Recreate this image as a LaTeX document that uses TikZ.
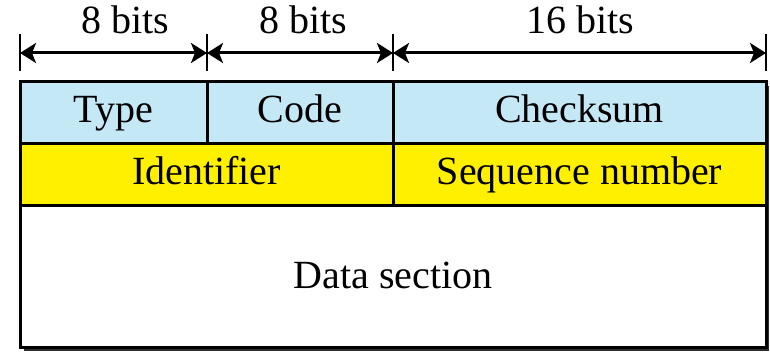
\documentclass[tikz,border=0pt]{standalone}
\usepackage{fontspec}
\setmainfont{Liberation Serif}
\usetikzlibrary{arrows.meta}
\definecolor{hdrblue}{RGB}{197,232,247}
\definecolor{idyellow}{RGB}{255,240,0}
\definecolor{shadowgray}{RGB}{45,45,45}
\begin{document}
\begin{tikzpicture}[x=1pt,y=-1pt,
  txt/.style={anchor=base,inner sep=0pt,font=\fontsize{40}{46}\selectfont},
  cellbox/.style={draw=black,line width=3pt},
  tick/.style={draw=black,line width=2.5pt},
  span/.style={draw=black,line width=3pt,{Stealth[length=16pt,width=20pt,inset=4pt]}-{Stealth[length=16pt,width=20pt,inset=4pt]}}
]
\useasboundingbox (0,0) rectangle (770,352);

% column edges at the dimension line
\coordinate (a0) at (20,53);
\coordinate (a1) at (207,53);
\coordinate (a2) at (393,53);
\coordinate (a3) at (766,53);

% tick marks
\foreach \c in {a0,a1,a2,a3}
  \draw[tick] ([yshift=-18pt]\c) -- ([yshift=19pt]\c);

% bit-width arrows
\draw[span] (a0) -- (a1);
\draw[span] (a1) -- (a2);
\draw[span] (a2) -- (a3);

\node[txt] (w1) at (125,34) {8 bits};
\node[txt] (w2) at (303,34) {8 bits};
\node[txt] (w3) at (580,34) {16 bits};

% drop shadow of the header block
\fill[shadowgray] (24,86) rectangle (769,351);

% header fields
\draw[cellbox,fill=hdrblue] (20,82) rectangle (207,144);
\draw[cellbox,fill=hdrblue] (207,82) rectangle (393,144);
\draw[cellbox,fill=hdrblue] (393,82) rectangle (766,144);
\draw[cellbox,fill=idyellow] (20,144) rectangle (393,206);
\draw[cellbox,fill=idyellow] (393,144) rectangle (766,206);
\draw[cellbox,fill=white] (20,206) rectangle (766,347);

\node[txt] (type) at (113.5,123) {Type};
\node[txt] (code) at (300,123) {Code};
\node[txt] (chk)  at (579.5,123) {Checksum};
\node[txt] (ident) at (206.5,185) {Identifier};
\node[txt] (seq)  at (579.5,185) {Sequence number};
\node[txt] (data) at (393,288) {Data section};
\end{tikzpicture}
\end{document}
